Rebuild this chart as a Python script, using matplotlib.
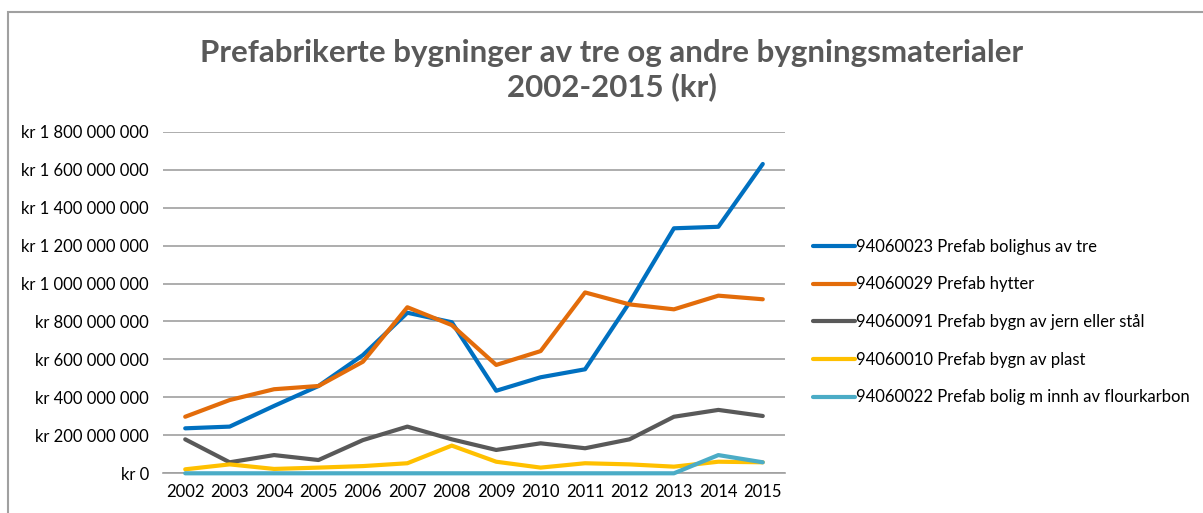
import numpy as np
import matplotlib.pyplot as plt
from matplotlib.patches import Rectangle
from matplotlib.ticker import FuncFormatter, MultipleLocator

years = [str(y) for y in range(2002, 2016)]

bolighus_tre = [237e6, 246e6, 355e6, 460e6, 623e6, 846e6, 796e6, 435e6, 506e6, 548e6, 900e6, 1291e6, 1299e6, 1630e6]
hytter = [298e6, 386e6, 443e6, 460e6, 588e6, 875e6, 781e6, 571e6, 644e6, 953e6, 890e6, 864e6, 936e6, 917e6]
jern_staal = [179e6, 58e6, 96e6, 70e6, 175e6, 246e6, 179e6, 123e6, 158e6, 132e6, 179e6, 298e6, 334e6, 302e6]
plast = [21e6, 47e6, 23e6, 30e6, 38e6, 53e6, 146e6, 61e6, 30e6, 53e6, 47e6, 35e6, 61e6, 58e6]
flourkarbon = [0, 0, 0, 0, 0, 0, 0, 0, 0, 0, 0, 0, 96e6, 58e6]

series = [
    ("94060023 Prefab bolighus av tre", bolighus_tre, "#0070C0"),
    ("94060029 Prefab hytter", hytter, "#E36C0A"),
    ("94060091 Prefab bygn av jern eller stål", jern_staal, "#595959"),
    ("94060010 Prefab bygn av plast", plast, "#FFC000"),
    ("94060022 Prefab bolig m innh av flourkarbon", flourkarbon, "#4BACC6"),
]

plt.rcParams['font.family'] = ['Lato', 'DejaVu Sans']

fig = plt.figure(figsize=(12.03, 5.13), dpi=100)
W, H = 1203, 513
ax = fig.add_axes([163 / W, 1 - 473.3 / H, (785 - 163) / W, (473.3 - 131.7) / H])

x = np.arange(len(years))
for label, vals, color in series:
    ax.plot(x, vals, color=color, lw=3, label=label, solid_capstyle='round',
            clip_on=False, zorder=3)

ax.set_xlim(-0.5, len(years) - 0.5)
ax.set_ylim(0, 1.8e9)
ax.yaxis.set_major_locator(MultipleLocator(2e8))


def kr(v, pos):
    if v == 0:
        return "kr 0"
    return "kr " + "{:,.0f}".format(v).replace(",", " ")


ax.yaxis.set_major_formatter(FuncFormatter(kr))
ax.set_xticks(x)
ax.set_xticklabels(years)
ax.tick_params(axis='both', length=0, labelsize=12, colors='#000000')
ax.tick_params(axis='y', pad=10)
ax.tick_params(axis='x', pad=8)
ax.grid(axis='y', color='#A0A0A0', lw=1.2)
ax.set_axisbelow(True)
for s in ['top', 'right', 'left']:
    ax.spines[s].set_visible(False)
ax.spines['bottom'].set_color('#A0A0A0')
ax.spines['bottom'].set_linewidth(1.2)
ax.spines['bottom'].set_zorder(1)

fig.text(612 / W, 1 - 70 / H, "Prefabrikerte bygninger av tre og andre bygningsmaterialer\n2002-2015 (kr)",
         ha='center', va='center', fontsize=22.5, fontweight='bold', color='#595959', linespacing=1.25)

leg = fig.legend(loc='center left', bbox_to_anchor=(798 / W, 1 - 322 / H), frameon=False,
                 fontsize=12, handlelength=2.5, handletextpad=0.1, labelspacing=1.3)

fig.patches.append(Rectangle((7.5 / W, -0.1), 1.2, 1 - 12.5 / H + 0.1, transform=fig.transFigure,
                             fill=False, edgecolor='#A0A0A0', lw=1.5))

fig.savefig("out.png", dpi=100)
